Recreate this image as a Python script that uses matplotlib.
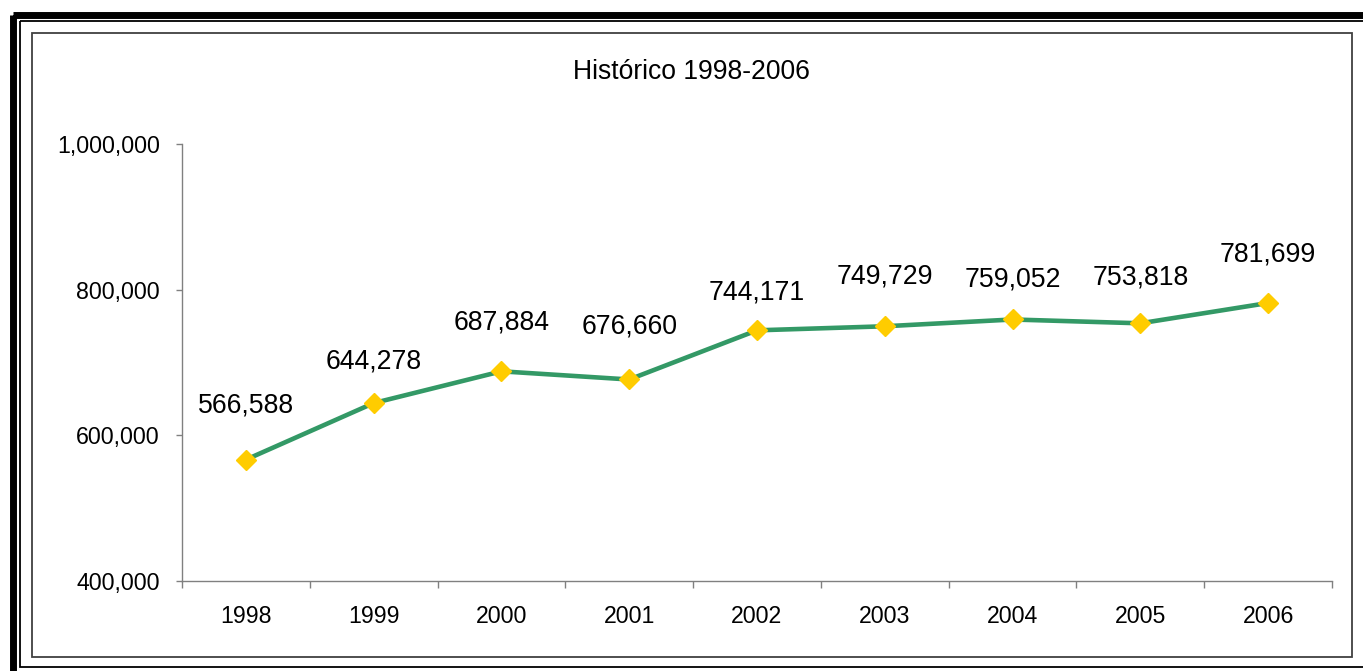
import matplotlib
matplotlib.use('Agg')
import matplotlib.pyplot as plt
from matplotlib.patches import Rectangle
from matplotlib.ticker import FuncFormatter
import numpy as np

# data
years = ['1998', '1999', '2000', '2001', '2002', '2003', '2004', '2005', '2006']
values = [566588, 644278, 687884, 676660, 744171, 749729, 759052, 753818, 781699]
# label lift above each point (pixels), labels were nudged by hand in the original
label_lift = [47, 35, 42, 46, 31, 43, 33, 39, 41]

plt.rcParams['font.family'] = ['Liberation Sans', 'DejaVu Sans']

W, H = 1363, 671
fig = plt.figure(figsize=(W / 100, H / 100), dpi=100)

# frame decoration in pixel coords
bg = fig.add_axes([0, 0, 1, 1], zorder=-1)
bg.set_xlim(0, W)
bg.set_ylim(H, 0)
bg.axis('off')
bg.add_patch(Rectangle((12.5, 14.5), W + 20, H + 20, fill=False, ec='black', lw=5.0))
bg.add_patch(Rectangle((20, 21.3), W + 20, 646, fill=False, ec='black', lw=1.3))
bg.add_patch(Rectangle((31.5, 33), 1320.5, 624, fill=False, ec='#404040', lw=1.3))

ax = fig.add_axes([182 / W, 1 - 581 / H, (1332 - 182) / W, (581 - 144) / H])
x = np.arange(len(years))
ax.plot(x, values, color='#339966', lw=3.3, marker='D', ms=10.5,
        mfc='#FFCC00', mec='#FFCC00', zorder=3, clip_on=False)

for i in range(len(values)):
    ax.annotate(f'{values[i]:,}', (x[i], values[i]), xytext=(0, label_lift[i]),
                textcoords='offset pixels', ha='center', va='baseline', fontsize=19.2)

ax.set_xlim(-0.5, len(years) - 0.5)
ax.set_ylim(400000, 1000000)
ax.set_yticks(np.arange(400000, 1000001, 200000))
ax.yaxis.set_major_formatter(FuncFormatter(lambda v, p: f'{int(v):,}'))
ax.set_xticks(x)
ax.set_xticklabels(years)
ax.set_xticks(np.arange(-0.5, len(years)), minor=True)

for s in ['top', 'right']:
    ax.spines[s].set_visible(False)
for s in ['left', 'bottom']:
    ax.spines[s].set_color('#808080')
    ax.spines[s].set_linewidth(1.0)

ax.tick_params(axis='x', which='major', length=0, pad=17, labelsize=16.7)
ax.tick_params(axis='x', which='minor', length=5, width=1, color='#808080', direction='out')
ax.tick_params(axis='y', which='major', length=4, width=1, color='#808080', pad=12, labelsize=16.7)
ax.patch.set_alpha(0)

fig.text(691 / W, 1 - 79 / H, 'Histórico 1998-2006', ha='center', va='baseline', fontsize=19.1)

plt.savefig('out.png', dpi=100)
